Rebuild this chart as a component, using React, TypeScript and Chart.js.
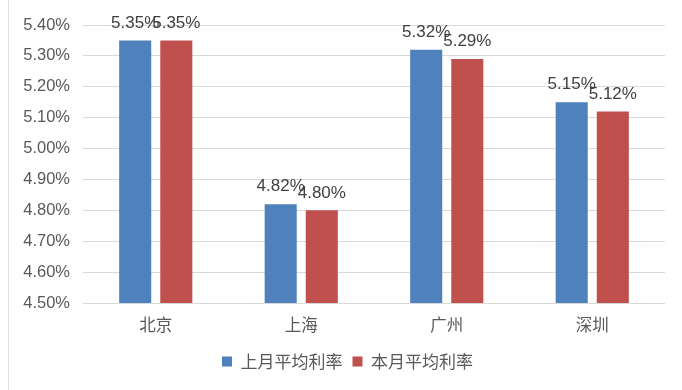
import React, { useEffect, useRef } from "react";
import { Chart, registerables } from "chart.js";

Chart.register(...registerables);

const categories = ["北京", "上海", "广州", "深圳"];
const lastMonth = [5.35, 4.82, 5.32, 5.15];
const thisMonth = [5.35, 4.80, 5.29, 5.12];
const seriesNames = ["上月平均利率", "本月平均利率"];
const yMin = 4.5;
const yMax = 5.4;
const yStep = 0.1;

const FONT = "'Liberation Sans', 'Noto Sans CJK SC', sans-serif";
const CJK = "'Noto Sans CJK SC', 'Liberation Sans', sans-serif";
const TEXT = "#595959";

const labelPlugin = {
  id: "valueLabels",
  afterLayout(chart: any) {
    if (chart.legend) {
      chart.legend.left += 15;
      chart.legend.right += 15;
    }
  },
  afterDatasetsDraw(chart: any) {
    const ctx = chart.ctx;
    ctx.save();
    ctx.font = `17px ${FONT}`;
    ctx.fillStyle = "#404040";
    ctx.textAlign = "center";
    ctx.textBaseline = "bottom";
    chart.data.datasets.forEach((ds: any, di: number) => {
      const meta = chart.getDatasetMeta(di);
      meta.data.forEach((bar: any, i: number) => {
        const v = ds.data[i];
        ctx.fillText(v.toFixed(2) + "%", bar.x, bar.y - 9);
      });
    });
    ctx.restore();
  },
};

export default function App() {
  const ref = useRef<HTMLCanvasElement>(null);
  useEffect(() => {
    const chart = new Chart(ref.current!, {
      type: "bar",
      data: {
        labels: categories,
        datasets: [
          { label: seriesNames[0], data: lastMonth, backgroundColor: "#4F81BD", categoryPercentage: 0.565, barPercentage: 0.78 },
          { label: seriesNames[1], data: thisMonth, backgroundColor: "#C0504D", categoryPercentage: 0.565, barPercentage: 0.78 },
        ],
      },
      options: {
        animation: false,
        responsive: false,
        devicePixelRatio: 1,
        layout: { padding: { left: 0, right: 17, top: 25, bottom: 10 } },
        plugins: {
          tooltip: { enabled: false },
          legend: {
            position: "bottom",
            labels: {
              boxWidth: 10,
              boxHeight: 10,
              color: TEXT,
              font: { size: 17, family: CJK },
              padding: 10,
            },
          },
        },
        scales: {
          x: {
            grid: { display: false },
            border: { display: false },
            ticks: { color: TEXT, font: { size: 16.5, family: CJK }, padding: 4 },
            afterFit(scale: any) { scale.height = 40; },
          },
          y: {
            min: yMin,
            max: yMax,
            grid: { color: "#d9d9d9", drawTicks: false },
            border: { display: false },
            ticks: {
              stepSize: yStep,
              color: TEXT,
              font: { size: 16.5, family: FONT },
              padding: 13,
              callback: (v: any) => (Math.round(Number(v) * 100) / 100).toFixed(2) + "%",
            },
            afterFit(scale: any) { scale.width = 83; },
          },
        },
      },
      plugins: [labelPlugin],
    });
    return () => chart.destroy();
  }, []);
  return (
    <div style={{ position: "fixed", left: 0, top: 0, width: 682, height: 390, background: "#fff" }}>
      <div style={{ position: "absolute", left: 8, top: 0, width: 1, height: 390, background: "#e0e0e0" }} />
      <canvas ref={ref} width={682} height={390} style={{ position: "absolute", left: 0, top: 0 }} />
    </div>
  );
}
